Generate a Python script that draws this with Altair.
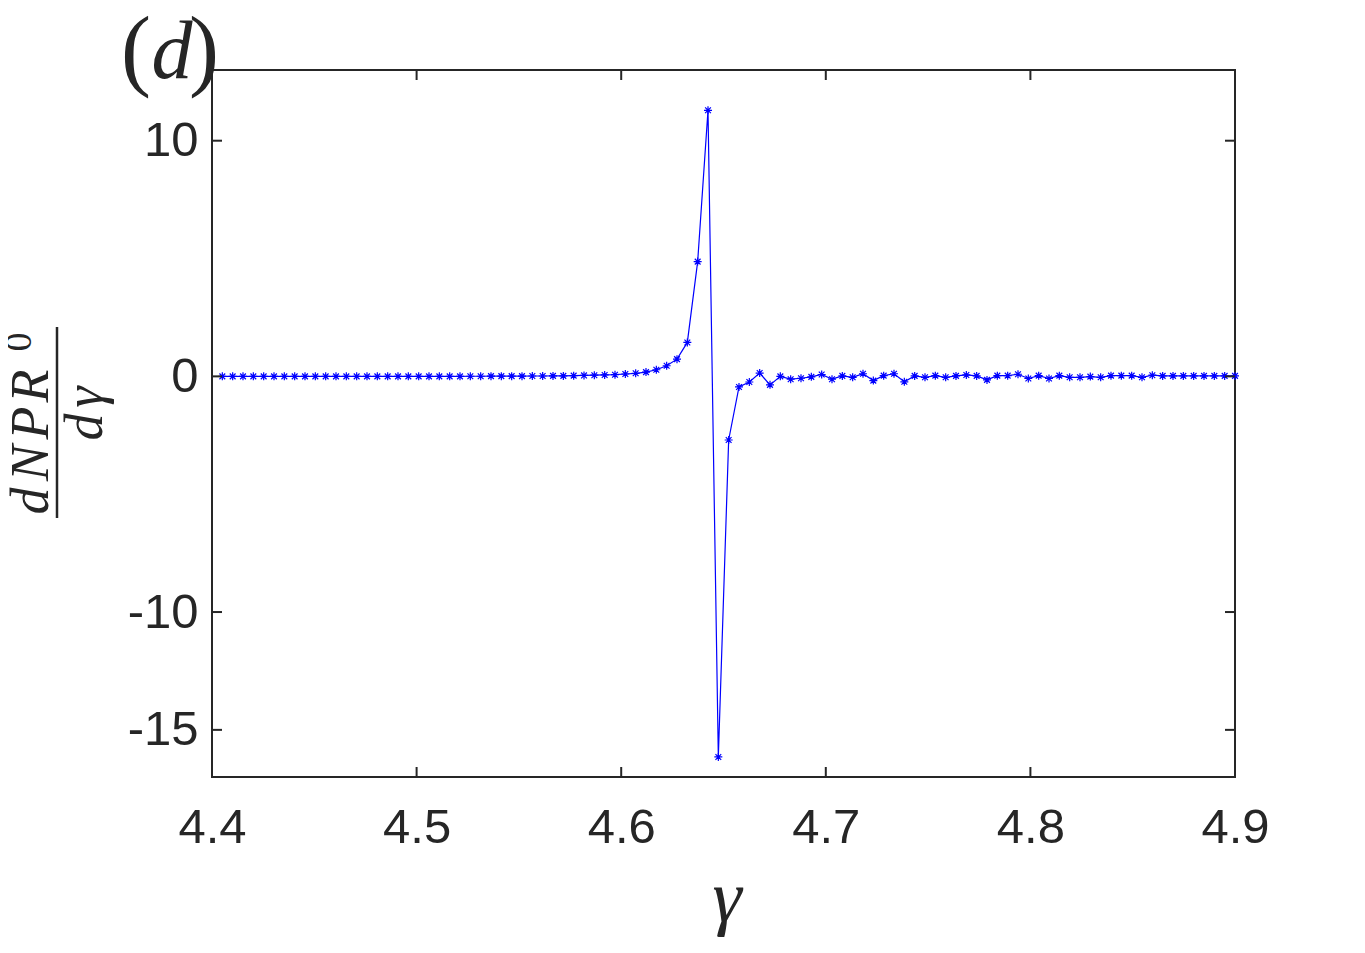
import altair as alt
import pandas as pd
import numpy as np

# ---------------- data ----------------
gamma = [round(float(v), 6) for v in np.linspace(4.4, 4.9, 100)[1:]]
dnpr = (
    [0.0] * 24
    + [0.005, 0.005, 0.01, 0.01, 0.01]
    + [0.01, 0.015, 0.015, 0.02]
    + [0.02, 0.03, 0.04, 0.05, 0.06, 0.07, 0.10, 0.13, 0.18, 0.28, 0.45, 0.73, 1.44, 4.87, 11.29]
    + [-16.15, -2.70, -0.45, -0.24, 0.14, -0.36, 0.00, -0.12, -0.08, -0.02, 0.08, -0.12]
    + [0.02, -0.04, 0.11, -0.18, 0.03, 0.11, -0.23, 0.02, -0.04, 0.03]
    + [-0.04, 0.02, 0.06, 0.02, -0.15, 0.03, 0.03, 0.09, -0.09, 0.03]
    + [-0.09, 0.03, -0.04, -0.04, -0.01, -0.04, 0.03, 0.03, 0.03, -0.04]
    + [0.05, 0.02, 0.02, 0.02, 0.02, 0.02, 0.02, 0.02, 0.02]
)
x_ticks = [4.4, 4.5, 4.6, 4.7, 4.8, 4.9]
y_ticks = [-15, -10, 0, 10]
x_domain = [4.4, 4.9]
y_domain = [-17, 13]

# ---------------- layout ----------------
W, H = 1023, 707
TICK = 10
AX = "#262626"
BLUE = "#0000ff"
SERIF = "Liberation Serif, Times New Roman, Times, serif"
ASTERISK = "M-1,0H1M0,-1V1M-0.72,-0.72L0.72,0.72M-0.72,0.72L0.72,-0.72"

df = pd.DataFrame({"gamma": gamma, "dnpr": dnpr})
xs = alt.Scale(domain=x_domain, nice=False, zero=False)
ys = alt.Scale(domain=y_domain, nice=False, zero=False)

xaxis = alt.Axis(values=x_ticks, format=".1f", ticks=False, grid=False, domain=False,
                 labelFont="Liberation Sans", labelFontSize=49, labelColor=AX,
                 labelPadding=26, labelFlush=False, labelOverlap=False, title=None)
yaxis = alt.Axis(values=y_ticks, ticks=False, grid=False, domain=False,
                 labelExpr="'' + datum.value",
                 labelFont="Liberation Sans", labelFontSize=49, labelColor=AX,
                 labelPadding=14, labelFlush=False, labelOverlap=False, title=None)

base = alt.Chart(df)
line = base.mark_line(color=BLUE, strokeWidth=1.2).encode(
    x=alt.X("gamma:Q", scale=xs, axis=xaxis),
    y=alt.Y("dnpr:Q", scale=ys, axis=yaxis),
)
points = base.mark_point(shape=ASTERISK, size=64, stroke=BLUE, filled=False,
                         strokeWidth=1.2, opacity=1).encode(
    x=alt.X("gamma:Q", scale=xs, axis=xaxis),
    y=alt.Y("dnpr:Q", scale=ys, axis=yaxis),
)

xt = pd.DataFrame({"t": x_ticks})
yt = pd.DataFrame({"t": y_ticks})
tick_style = dict(color=AX, strokeWidth=2)
xb = alt.Chart(xt).mark_rule(**tick_style).encode(
    x=alt.X("t:Q", scale=xs, axis=xaxis), y=alt.value(H), y2=alt.value(H - TICK))
xtp = alt.Chart(xt).mark_rule(**tick_style).encode(
    x=alt.X("t:Q", scale=xs, axis=xaxis), y=alt.value(0), y2=alt.value(TICK))
yl = alt.Chart(yt).mark_rule(**tick_style).encode(
    y=alt.Y("t:Q", scale=ys, axis=yaxis), x=alt.value(0), x2=alt.value(TICK))
yr = alt.Chart(yt).mark_rule(**tick_style).encode(
    y=alt.Y("t:Q", scale=ys, axis=yaxis), x=alt.value(W), x2=alt.value(W - TICK))

one = pd.DataFrame({"a": [0]})


def txt(s, x, y, size, italic=True, angle=0, align="center", baseline="alphabetic",
        font=SERIF):
    kw = dict(text=s, font=font, fontSize=size, color=AX, align=align, baseline=baseline)
    if italic:
        kw["fontStyle"] = "italic"
    if angle:
        kw["angle"] = angle
    return alt.Chart(one).mark_text(**kw).encode(x=alt.value(x), y=alt.value(y))


texts = [
    # x-axis title
    txt("γ", 515, 851, 74),
    # panel label (d)
    txt("(", -76, 9, 90, italic=False),
    txt("d", -40, 8, 82),
    txt(")", -8, 9, 90, italic=False),
    # y-axis fraction: numerator
    txt("d", -164, 431, 54, angle=270),
    txt("N", -164, 393, 54, angle=270),
    txt("P", -164, 353, 54, angle=270),
    txt("R", -164, 316, 54, angle=270),
    txt("0", -181, 272, 38, italic=False, angle=270),
    # denominator
    txt("d", -110, 357, 54, angle=270),
    txt("γ", -110, 327, 54, angle=270),
]
frac = alt.Chart(one).mark_rule(color=AX, strokeWidth=2.5).encode(
    x=alt.value(-155), y=alt.value(257), y2=alt.value(448))

chart = alt.layer(line, points, xb, xtp, yl, yr, frac, *texts).properties(
    width=W, height=H,
    autosize=alt.AutoSizeParams(type="none"),
    padding={"left": 204, "top": 62, "right": 120, "bottom": 160},
    background="white",
).configure_view(stroke=AX, strokeWidth=2)

chart.save("out.html", embed_options={"renderer": "svg", "actions": False})
